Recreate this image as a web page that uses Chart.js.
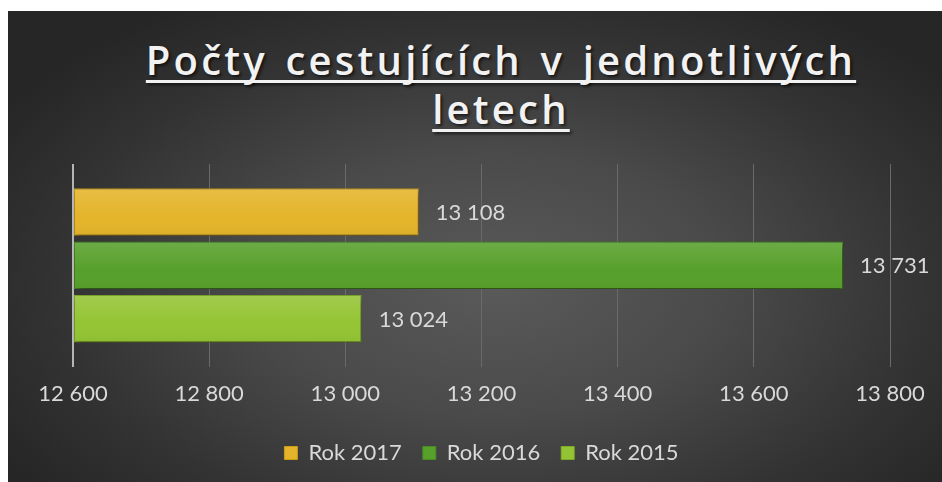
<!DOCTYPE html>
<html lang="cs">
    <head>
        <meta charset="utf-8" />
        <script src="https://cdn.jsdelivr.net/npm/chart.js@4/dist/chart.umd.min.js"></script>
        <title>Počty cestujících</title>
        <style>
            html, body { margin: 0; padding: 0; background: #ffffff; }
            #panel {
                position: absolute; left: 8px; top: 11px; width: 934px; height: 471px; overflow: hidden;
                background: radial-gradient(ellipse 62% 70% at 52% 58%, #5a5a5a 0%, #4a4a4a 40%, #333333 75%, #262626 100%);
            }
            #nadpis {
                position: absolute; left: 0; width: 934px; top: 24px; margin: 0; text-align: center;
                padding-left: 52px; box-sizing: border-box;
                font-family: "Open Sans", sans-serif; font-weight: 600; font-size: 40px; line-height: 49px;
                letter-spacing: 3.2px; word-spacing: 4px; color: #f2f2f2;
                text-decoration: underline; text-decoration-thickness: 3px; text-underline-offset: 5px;
                text-decoration-skip-ink: none;
                text-shadow: 2px 2px 3px rgba(0,0,0,0.6);
            }
            #graf { position: absolute; left: 0; top: 0; }
        </style>
    </head>
    <body>
        <div id="panel">
            <h1 id="nadpis">Počty cestujících v jednotlivých<br>letech</h1>
            <canvas id="graf" width="934" height="471"></canvas>
        </div>
        <script>
            // data z grafu
            const kategorie = [""];
            const roky = ["Rok 2017", "Rok 2016", "Rok 2015"];
            const cestujici = [13108, 13731, 13024];
            const barvy = ["#e4b42a", "#57a02b", "#94c434"];
            const okraje = ["#c99d1c", "#4a8a22", "#80ab28"];
            const osaMin = 12600;
            const osaMax = 13800;
            const osaKrok = 200;

            // cisla s mezerou mezi tisici (13 108)
            function formatuj(n) {
                return String(n).replace(/\B(?=(\d{3})+(?!\d))/g, " ");
            }

            var datasety = roky.map(function (rok, i) {
                return {
                    label: rok,
                    data: [cestujici[i]],
                    base: osaMin,
                    backgroundColor: barvy[i],
                    borderColor: okraje[i],
                    borderWidth: 1,
                    borderSkipped: false,
                    barPercentage: 0.89,
                    categoryPercentage: 0.79
                };
            });

            // stin pod sloupci, lesk a popisky hodnot
            const sloupcePlugin = {
                id: "sloupce",
                beforeDatasetsDraw(chart) {
                    const ctx = chart.ctx;
                    ctx.save();
                    ctx.shadowColor = "rgba(0,0,0,0.55)";
                    ctx.shadowBlur = 7;
                    ctx.shadowOffsetX = 2;
                    ctx.shadowOffsetY = 3;
                },
                afterDatasetsDraw(chart) {
                    const ctx = chart.ctx;
                    ctx.restore();
                    chart.data.datasets.forEach(function (ds, i) {
                        const bar = chart.getDatasetMeta(i).data[0];
                        const top = bar.y - bar.height / 2;
                        const g = ctx.createLinearGradient(0, top, 0, top + bar.height);
                        g.addColorStop(0, "rgba(255,255,255,0.13)");
                        g.addColorStop(0.6, "rgba(255,255,255,0)");
                        g.addColorStop(1, "rgba(0,0,0,0.04)");
                        ctx.fillStyle = g;
                        ctx.fillRect(bar.base + 1, top + 1, bar.x - bar.base - 2, bar.height - 2);
                        ctx.fillStyle = "#d9d9d9";
                        ctx.font = "22px Lato";
                        ctx.textBaseline = "middle";
                        ctx.textAlign = "left";
                        ctx.fillText(formatuj(ds.data[0]), bar.x + 17, bar.y + 1);
                    });
                }
            };

            new Chart(document.getElementById("graf").getContext("2d"), {
                type: "bar",
                data: { labels: kategorie, datasets: datasety },
                plugins: [sloupcePlugin],
                options: {
                    indexAxis: "y",
                    responsive: false,
                    animation: false,
                    layout: { padding: { left: 65, right: 52, top: 153, bottom: 8 } },
                    scales: {
                        x: {
                            min: osaMin,
                            max: osaMax,
                            ticks: {
                                stepSize: osaKrok,
                                color: "#d9d9d9",
                                font: { family: "Lato", size: 22 },
                                padding: 14,
                                callback: function (v) { return formatuj(v); }
                            },
                            grid: {
                                drawTicks: false,
                                color: function (c) { return c.index === 0 ? "#b5b5b5" : "#6a6a6a"; },
                                lineWidth: function (c) { return c.index === 0 ? 2 : 1; }
                            },
                            border: { display: false }
                        },
                        y: { display: false }
                    },
                    plugins: {
                        title: { display: false },
                        tooltip: { enabled: false },
                        legend: {
                            position: "bottom",
                            labels: {
                                color: "#d9d9d9",
                                font: { family: "Lato", size: 22 },
                                boxWidth: 13,
                                boxHeight: 13,
                                padding: 21
                            }
                        }
                    }
                }
            });
        </script>
    </body>
</html>
